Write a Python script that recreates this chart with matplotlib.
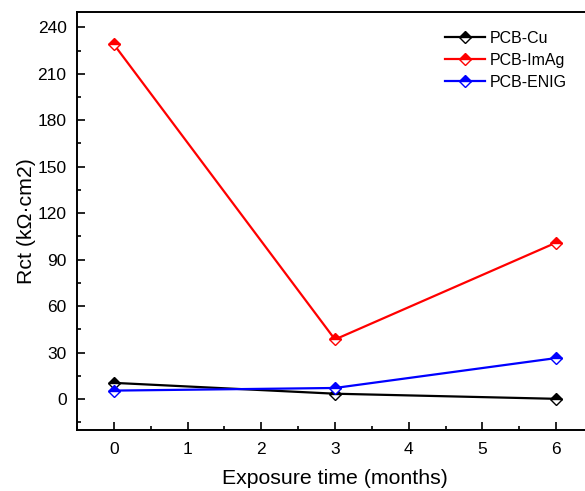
import numpy as np
import matplotlib
matplotlib.use('Agg')
import matplotlib.pyplot as plt
from matplotlib.ticker import MultipleLocator

plt.rcParams['font.family'] = ['Liberation Sans', 'DejaVu Sans']

months = [0, 3, 6]
rct_cu = [10.5, 3.5, 0.2]
rct_imag = [229, 38.5, 101]
rct_enig = [5.5, 7.2, 26.5]

labels = ['PCB-Cu', 'PCB-ImAg', 'PCB-ENIG']
colors = ['black', 'red', 'blue']

fig = plt.figure(figsize=(5.85, 4.91), dpi=100)
ax = fig.add_axes([0.1316, 0.124, 0.882, 0.852])

for vals, lab, c in zip([rct_cu, rct_imag, rct_enig], labels, colors):
    ax.plot(months, vals, '-', color=c, lw=1.6, marker='D', markersize=6.5,
            fillstyle='top', markerfacecolor=c, markerfacecoloralt='white',
            markeredgecolor=c, markeredgewidth=1.0, label=lab)

ax.set_xlim(-0.5, 6.5)
ax.set_ylim(-20, 250)
ax.xaxis.set_major_locator(MultipleLocator(1))
ax.xaxis.set_minor_locator(MultipleLocator(0.5))
ax.yaxis.set_major_locator(MultipleLocator(30))
ax.yaxis.set_minor_locator(MultipleLocator(15))
ax.tick_params(which='both', direction='in', labelsize=12.5, width=1.2)
ax.tick_params(which='major', length=6)
ax.tick_params(which='minor', length=3)
ax.tick_params(axis='x', which='major', pad=8.5)
ax.tick_params(axis='y', which='major', pad=7.5)
for s in ax.spines.values():
    s.set_linewidth(1.4)

ax.set_xlabel('Exposure time (months)', fontsize=15.3, labelpad=9)
ax.set_ylabel('Rct (kΩ·cm2)', fontsize=15.3, labelpad=1)

ax.legend(loc='upper left', bbox_to_anchor=(0.713, 0.955), frameon=False,
          fontsize=11.5, handlelength=2.5, handletextpad=0.3, labelspacing=0.45,
          borderaxespad=0, borderpad=0)

fig.savefig('out.png', dpi=100)
